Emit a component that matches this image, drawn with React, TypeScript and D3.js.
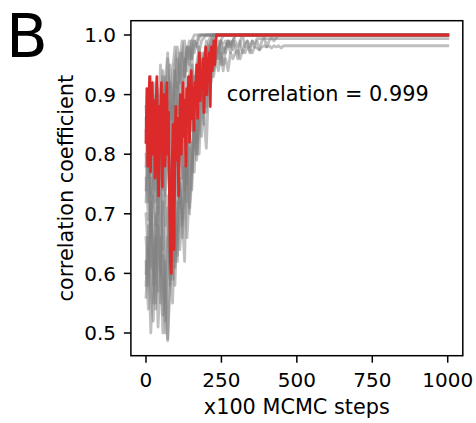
import React from 'react';
import * as d3 from 'd3';

const W = 476;
const H = 423;

const xTicks = [0, 250, 500, 750, 1000];
const yTicks = [0.5, 0.6, 0.7, 0.8, 0.9, 1.0];
const xLabel = 'x100 MCMC steps';
const yLabel = 'correlation coefficient';
const annotation = 'correlation = 0.999';
const panelLabel = 'B';

// sampled every redStep MCMC (x100) steps, then held at redFinal
const redStep = 3;
const redRun = [
  0.82, 0.91, 0.78, 0.88, 0.93, 0.77, 0.85, 0.92, 0.8, 0.89, 0.76, 0.87, 0.93, 0.79, 0.73, 0.88,
  0.81, 0.92, 0.745, 0.86, 0.9, 0.78, 0.85, 0.92, 0.8, 0.87,
  0.72, 0.62, 0.6, 0.79, 0.85, 0.64, 0.82, 0.88,
  0.79, 0.86, 0.73, 0.84, 0.9, 0.8, 0.87, 0.92, 0.83, 0.89, 0.78, 0.91, 0.85, 0.93, 0.82, 0.88,
  0.94, 0.86, 0.91, 0.84,
  0.92, 0.88, 0.95, 0.86, 0.93, 0.97, 0.89, 0.94, 0.91, 0.96, 0.87, 0.95, 0.98, 0.9, 0.96, 0.93,
  0.97, 0.88, 0.98, 0.94, 0.96, 0.99, 0.95, 0.99,
];
const redFinal = 1.0;

// gray runs, sampled every grayStep steps, then held at their final value
const grayStep = 8;
const gray1 = [0.66, 0.58, 0.72, 0.61, 0.55, 0.68, 0.74, 0.6, 0.52, 0.65, 0.71, 0.63, 0.58, 0.7, 0.76, 0.68, 0.74, 0.82, 0.71, 0.78, 0.86, 0.8, 0.88, 0.92, 0.85, 0.94, 0.97, 0.99];
const gray2 = [0.8, 0.72, 0.85, 0.76, 0.68, 0.82, 0.88, 0.74, 0.79, 0.86, 0.7, 0.81, 0.9, 0.78, 0.84, 0.76, 0.88, 0.83, 0.91, 0.86, 0.93, 0.89, 0.95, 0.92, 0.97, 0.95, 0.98, 0.99];
const gray3 = [0.56, 0.64, 0.5, 0.6, 0.7, 0.57, 0.66, 0.53, 0.62, 0.49, 0.58, 0.68, 0.61, 0.72, 0.64, 0.7, 0.78, 0.66, 0.74, 0.82, 0.77, 0.86, 0.8, 0.9, 0.94, 0.88, 0.96, 0.98, 0.99];
const gray4 = [0.74, 0.82, 0.68, 0.77, 0.86, 0.71, 0.8, 0.64, 0.75, 0.83, 0.69, 0.78, 0.72, 0.85, 0.79, 0.88, 0.74, 0.82, 0.9, 0.84, 0.93, 0.87, 0.95, 0.91, 0.96, 0.94, 0.97, 0.95, 0.94, 0.96, 0.97, 0.95, 0.98, 0.97, 0.99, 0.98, 0.99];
const gray5 = [0.86, 0.78, 0.9, 0.83, 0.92, 0.8, 0.87, 0.94, 0.84, 0.89, 0.95, 0.88, 0.92, 0.96, 0.9, 0.97, 0.93, 0.98, 0.95, 0.99, 0.97, 0.99];
const gray6 = [0.62, 0.54, 0.7, 0.58, 0.66, 0.51, 0.6, 0.72, 0.56, 0.487, 0.64, 0.59, 0.69, 0.62, 0.75, 0.66, 0.72, 0.8, 0.7, 0.76, 0.84, 0.79, 0.88, 0.83, 0.91, 0.87, 0.94, 0.92, 0.96, 0.98, 0.97, 0.99, 0.985, 0.99, 0.98, 0.99, 0.975, 0.99, 0.98, 0.99, 0.97, 0.985, 0.99, 0.98, 0.99, 0.985];
const gray7 = [0.7, 0.63, 0.76, 0.55, 0.67, 0.74, 0.6, 0.8, 0.68, 0.73, 0.58, 0.77, 0.65, 0.82, 0.71, 0.78, 0.87, 0.75, 0.84, 0.9, 0.81, 0.88, 0.93, 0.97, 0.92, 0.96, 0.99];
const gray8 = [0.78, 0.84, 0.73, 0.88, 0.8, 0.91, 0.76, 0.85, 0.93, 0.82, 0.89, 0.79, 0.94, 0.87, 0.97, 0.91, 0.95, 0.98, 0.96, 0.99];
const gray9 = [0.6, 0.68, 0.57, 0.52, 0.64, 0.71, 0.55, 0.63, 0.5, 0.66, 0.59, 0.73, 0.62, 0.68, 0.75, 0.7, 0.62, 0.79, 0.85, 0.74, 0.9, 0.82, 0.88, 0.93, 0.86, 0.81, 0.92, 0.96, 0.94, 0.98, 0.96, 0.99];
const gray10 = [0.84, 0.76, 0.81, 0.89, 0.72, 0.83, 0.78, 0.9, 0.85, 0.8, 0.92, 0.86, 0.94, 0.89, 0.83, 0.91, 0.96, 0.88, 0.93, 0.97, 0.9, 0.95, 0.98, 0.93, 0.96, 0.99, 0.97, 0.94, 0.98, 0.96, 0.99, 0.97, 0.94, 0.98, 0.99, 0.97, 0.99, 0.98, 0.96, 0.99, 1.0, 0.98, 0.99, 0.97, 0.99, 0.98, 0.99, 0.975, 0.99, 0.995, 0.98, 0.99, 0.995, 0.99, 0.995];
const gray11 = [0.72, 0.8, 0.66, 0.75, 0.84, 0.7, 0.79, 0.87, 0.73, 0.82, 0.76, 0.88, 0.81, 0.92, 0.85, 0.78, 0.74, 0.83, 0.89, 0.95, 0.87, 0.93, 0.97, 0.94, 0.96, 0.98, 0.95, 0.97, 0.99, 0.96, 0.98, 0.99, 0.97, 0.98, 0.99, 0.985, 0.99];
const gray12 = [0.58, 0.66, 0.61, 0.73, 0.54, 0.68, 0.62, 0.5, 0.65, 0.71, 0.6, 0.55, 0.67, 0.63, 0.74, 0.69, 0.78, 0.72, 0.81, 0.77, 0.86, 0.8, 0.84, 0.91, 0.88, 0.94, 0.9, 0.95, 0.93, 0.96, 0.94, 0.97, 0.95, 0.96, 0.94, 0.97, 0.96, 0.97, 0.975, 0.96, 0.975, 0.97, 0.98, 0.975, 0.97, 0.98, 0.978, 0.975, 0.98, 0.982, 0.98, 0.982, 0.978, 0.982, 0.98, 0.982, 0.978, 0.982];
const gray13 = [0.88, 0.8, 0.93, 0.85, 0.9, 0.82, 0.95, 0.88, 0.92, 0.97, 0.86, 0.94, 0.98, 0.91, 0.96, 0.99, 0.93, 0.97, 0.99, 0.96, 0.99, 0.98, 0.995];
const gray14 = [0.76, 0.69, 0.82, 0.87, 0.74, 0.9, 0.81, 0.93, 0.86, 0.96, 0.89, 0.83, 0.95, 0.98, 0.92, 0.97, 0.99, 0.94, 0.98, 0.96, 0.99, 0.985, 0.97, 0.99, 0.995];
const grayRuns = [gray1, gray2, gray3, gray4, gray5, gray6, gray7, gray8, gray9, gray10, gray11, gray12, gray13, gray14];
const grayFinals = [1.0, 1.0, 1.0, 1.0, 1.0, 0.994, 1.0, 1.0, 1.0, 1.0, 1.0, 0.982, 1.0, 1.0];
const lastStep = 1000;

const FONT = 'DejaVu Sans, sans-serif';

function toPoints(vals: number[], step: number, final: number): [number, number][] {
  const pts: [number, number][] = vals.map((v, i) => [i * step, v]);
  pts.push([vals.length * step, final]);
  pts.push([lastStep, final]);
  return pts;
}

export default function App() {
  const left = 130.9, right = 462.8, top = 20.7, bottom = 355.7;
  const x = d3.scaleLinear().domain([-50, 1050]).range([left, right]);
  const y = d3.scaleLinear().domain([0.4619, 1.024]).range([bottom, top]);
  const line = d3
    .line<[number, number]>()
    .x((d) => x(d[0]))
    .y((d) => y(d[1]));

  const lw = 2.8;

  return (
    <svg width={W} height={H} style={{ position: 'absolute', left: 0, top: 0, background: '#fff' }} fontFamily={FONT}>
      <rect x={0} y={0} width={W} height={H} fill="#fff" />
      <defs>
        <clipPath id="plotclip">
          <rect x={left} y={top} width={right - left} height={bottom - top} />
        </clipPath>
      </defs>
      <g clipPath="url(#plotclip)">
        {grayRuns.map((run, i) => (
          <path
            key={i}
            d={line(toPoints(run, grayStep, grayFinals[i])) || ''}
            fill="none"
            stroke="#808080"
            strokeOpacity={0.5}
            strokeWidth={lw}
            strokeLinejoin="round"
            strokeLinecap="square"
          />
        ))}
        <path
          d={line(toPoints(redRun, redStep, redFinal)) || ''}
          fill="none"
          stroke="#dc2a2b"
          strokeWidth={lw}
          strokeLinejoin="round"
          strokeLinecap="square"
        />
      </g>
      <rect x={left} y={top} width={right - left} height={bottom - top} fill="none" stroke="#000" strokeWidth={1.5} />
      {yTicks.map((t) => (
        <g key={t}>
          <line x1={left - 7} x2={left} y1={y(t)} y2={y(t)} stroke="#000" strokeWidth={1.5} />
          <text x={116} y={y(t) + 7.2} textAnchor="end" fontSize={20} fill="#000">
            {t.toFixed(1)}
          </text>
        </g>
      ))}
      {xTicks.map((t) => (
        <g key={t}>
          <line x1={x(t)} x2={x(t)} y1={bottom} y2={bottom + 7} stroke="#000" strokeWidth={1.5} />
          <text x={x(t)} y={387} textAnchor="middle" fontSize={20} fill="#000">
            {t}
          </text>
        </g>
      ))}
      <text x={x(500)} y={414} textAnchor="middle" fontSize={20.8} fill="#000">
        {xLabel}
      </text>
      <text
        transform={`translate(72.5, ${(top + bottom) / 2}) rotate(-90)`}
        textAnchor="middle"
        fontSize={20.8}
        fill="#000"
      >
        {yLabel}
      </text>
      <text x={x(268)} y={y(0.89)} fontSize={20.8} fill="#000">
        {annotation}
      </text>
      <text x={6} y={57} fontSize={61} fill="#000">
        {panelLabel}
      </text>
    </svg>
  );
}
